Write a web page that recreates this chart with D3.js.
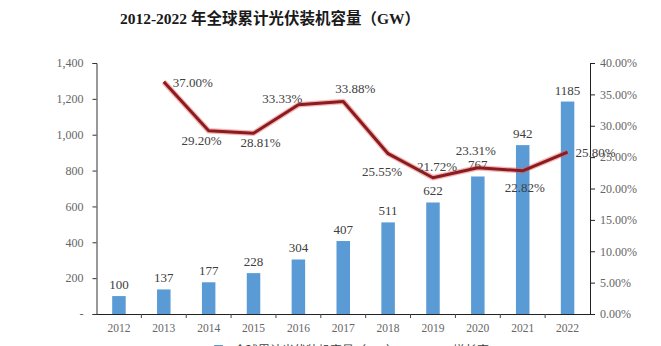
<!DOCTYPE html>
<html>
<head>
<meta charset="utf-8">
<script src="https://cdn.jsdelivr.net/npm/d3@7"></script>
<style>
  html, body { margin: 0; padding: 0; background: #fff; }
  svg { display: block; }
  text { font-family: "Liberation Serif", "Times New Roman", "Noto Sans CJK SC", serif; }
</style>
</head>
<body>
<script>
// Cumulative global PV installed capacity (GW) and year-on-year growth rate
const years = ["2012","2013","2014","2015","2016","2017","2018","2019","2020","2021","2022"];
const capacity = [100, 137, 177, 228, 304, 407, 511, 622, 767, 942, 1185];
const growthYears = ["2013","2014","2015","2016","2017","2018","2019","2020","2021","2022"];
const growth = [0.37, 0.292, 0.2881, 0.3333, 0.3388, 0.2555, 0.2172, 0.2331, 0.2282, 0.258];
// label placement for each growth point: [dx, dy, anchor]
const growthLabelPos = [
  [9, 5, "start"],
  [-7, 14, "middle"],
  [7, 14, "middle"],
  [-16, -2, "middle"],
  [12, -8, "middle"],
  [-6, 22, "middle"],
  [4, -7, "middle"],
  [-2, -13, "middle"],
  [2, 21, "middle"],
  [8, 5, "start"]
];
const leftTicks = [0, 200, 400, 600, 800, 1000, 1200, 1400];
const rightTicks = [0, 0.05, 0.10, 0.15, 0.20, 0.25, 0.30, 0.35, 0.40];
const title = "2012-2022 年全球累计光伏装机容量（GW）";
const legendLabels = ["全球累计光伏装机容量（GW）", "增长率"];

const W = 661, H = 346;
const plotL = 96.5, plotR = 590, plotT = 63, plotB = 314;

const svg = d3.select("body").append("svg").attr("width", W).attr("height", H);
svg.append("rect").attr("width", W).attr("height", H).attr("fill", "#fff");

const x = d3.scaleBand().domain(years).range([plotL, plotR]).paddingInner(0).paddingOuter(0);
const yL = d3.scaleLinear().domain([0, 1400]).range([plotB, plotT]);
const yR = d3.scaleLinear().domain([0, 0.4]).range([plotB, plotT]);

// title
svg.append("text")
  .attr("x", 270).attr("y", 24)
  .attr("text-anchor", "middle")
  .attr("font-size", 15.5).attr("font-weight", "bold").attr("fill", "#1a1a1a")
  .text(title);

// left axis
const axL = d3.axisLeft(yL).tickValues(leftTicks).tickSize(4).tickPadding(9)
  .tickFormat(d => d === 0 ? "-" : d3.format(",")(d));
const gL = svg.append("g").attr("transform", `translate(${plotL},0)`).call(axL);
gL.select(".domain").attr("stroke", "#333");
gL.selectAll(".tick line").attr("stroke", "#333");
gL.selectAll(".tick text").attr("fill", "#666").attr("font-size", 12)
  .attr("font-family", "Liberation Serif, serif");

// right axis
const axR = d3.axisRight(yR).tickValues(rightTicks).tickSize(5).tickPadding(5)
  .tickFormat(d3.format(".2%"));
const gR = svg.append("g").attr("transform", `translate(${plotR},0)`).call(axR);
gR.select(".domain").attr("stroke", "#222");
gR.selectAll(".tick line").attr("stroke", "#222");
gR.selectAll(".tick text").attr("fill", "#666").attr("font-size", 12)
  .attr("font-family", "Liberation Serif, serif");

// bars
const barW = 13.5;
svg.append("g").selectAll("rect").data(years).join("rect")
  .attr("x", (d) => x(d) + x.bandwidth() / 2 - barW / 2)
  .attr("y", (d, i) => yL(capacity[i]))
  .attr("width", barW)
  .attr("height", (d, i) => yL(0) - yL(capacity[i]))
  .attr("fill", "#5b9bd5");

// bar value labels
svg.append("g").selectAll("text").data(years).join("text")
  .attr("x", d => x(d) + x.bandwidth() / 2)
  .attr("y", (d, i) => yL(capacity[i]) - 7)
  .attr("text-anchor", "middle")
  .attr("font-size", 13).attr("fill", "#404040")
  .text((d, i) => capacity[i]);

// x axis
const axB = d3.axisBottom(x).tickSize(0).tickPadding(10);
const gB = svg.append("g").attr("transform", `translate(0,${plotB})`).call(axB);
gB.select(".domain").attr("stroke", "#222").attr("stroke-width", 1.2);
gB.selectAll(".tick text").attr("fill", "#666").attr("font-size", 11.5)
  .attr("font-family", "Liberation Serif, serif");
// category separators
svg.append("g").selectAll("line").data(years.slice(1)).join("line")
  .attr("x1", d => x(d)).attr("x2", d => x(d))
  .attr("y1", plotB).attr("y2", plotB + 4)
  .attr("stroke", "#444");

// growth line
const line = d3.line()
  .x((d, i) => x(growthYears[i]) + x.bandwidth() / 2)
  .y(d => yR(d));
svg.append("path").datum(growth).attr("d", line)
  .attr("fill", "none").attr("stroke", "#e8595c").attr("stroke-opacity", 0.45)
  .attr("stroke-width", 5.5).attr("stroke-linejoin", "round");
svg.append("path").datum(growth).attr("d", line)
  .attr("fill", "none").attr("stroke", "#8a1c1f")
  .attr("stroke-width", 3).attr("stroke-linejoin", "round");

// growth labels
svg.append("g").selectAll("text").data(growth).join("text")
  .attr("x", (d, i) => x(growthYears[i]) + x.bandwidth() / 2 + growthLabelPos[i][0])
  .attr("y", (d, i) => yR(d) + growthLabelPos[i][1])
  .attr("text-anchor", (d, i) => growthLabelPos[i][2])
  .attr("font-size", 13).attr("fill", "#404040")
  .text(d => d3.format(".2%")(d));

// legend (sits at the lower edge)
const lg = svg.append("g");
lg.append("rect").attr("x", 214).attr("y", 345).attr("width", 9).attr("height", 9).attr("fill", "#5b9bd5");
lg.append("text").attr("x", 234).attr("y", 355).attr("font-size", 12).attr("fill", "#404040")
  .attr("font-family", "Noto Sans CJK SC, sans-serif").text(legendLabels[0]);
lg.append("line").attr("x1", 418).attr("x2", 446).attr("y1", 350).attr("y2", 350)
  .attr("stroke", "#8a1c1f").attr("stroke-width", 3);
lg.append("text").attr("x", 453).attr("y", 355).attr("font-size", 12).attr("fill", "#404040")
  .attr("font-family", "Noto Sans CJK SC, sans-serif").text(legendLabels[1]);
</script>
</body>
</html>
